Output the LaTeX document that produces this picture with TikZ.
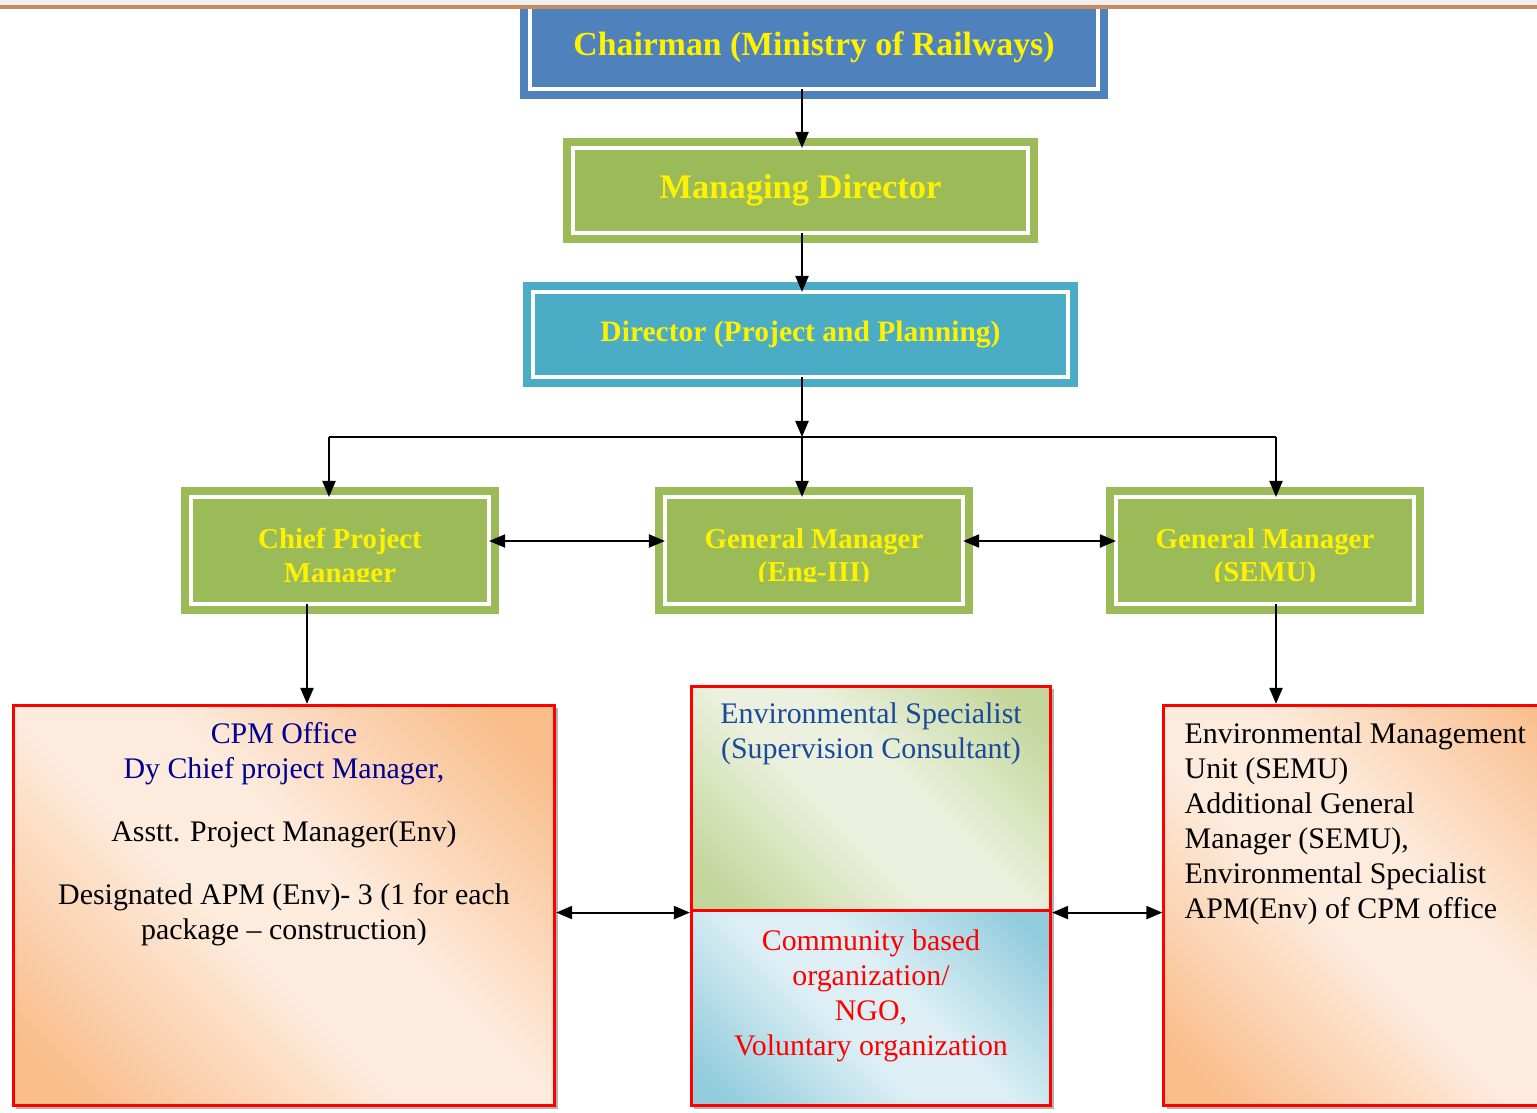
\documentclass[tikz,border=0pt]{standalone}
\usepackage{fontspec}
\setmainfont{Liberation Serif}
\usetikzlibrary{arrows.meta, shadows, positioning, calc}
\definecolor{chairblue}{HTML}{4F81BD}
\definecolor{leafgreen}{HTML}{9BBB59}
\definecolor{planblue}{HTML}{4BACC6}
\definecolor{peach}{HTML}{F9BE8C}
\definecolor{peachlight}{HTML}{FDEBDD}
\definecolor{sage}{HTML}{C3D69B}
\definecolor{sagelight}{HTML}{EBF1DE}
\definecolor{aqua}{HTML}{93CDDD}
\definecolor{aqualight}{HTML}{DDEFF5}
\definecolor{navytext}{HTML}{000090}
\definecolor{esblue}{HTML}{1A4A9A}
\definecolor{rulebrown}{HTML}{C98A5E}
\pgfdeclareverticalshading{peachband}{100bp}{color(0bp)=(peach); color(20bp)=(peach);
  color(44bp)=(peachlight); color(56bp)=(peachlight); color(80bp)=(peach); color(100bp)=(peach)}
\pgfdeclareverticalshading{sageband}{100bp}{color(0bp)=(sage); color(20bp)=(sage);
  color(44bp)=(sagelight); color(56bp)=(sagelight); color(80bp)=(sage); color(100bp)=(sage)}
\pgfdeclareverticalshading{aquaband}{100bp}{color(0bp)=(aqua); color(20bp)=(aqua);
  color(44bp)=(aqualight); color(56bp)=(aqualight); color(80bp)=(aqua); color(100bp)=(aqua)}
\tikzstyle{arrow} = [-{Triangle[length=0.16cm,width=0.13cm]},line width=0.6pt]
\tikzstyle{twoway} = [{Triangle[length=0.16cm,width=0.13cm]}-{Triangle[length=0.16cm,width=0.13cm]},line width=0.6pt]
\tikzset{
  post/.style={rectangle, fill=#1, draw=#1, double=white, line width=0.08cm,
    double distance=0.04cm, text=yellow, align=center, inner sep=0pt, outer sep=0pt},
  posttitle/.style={text=yellow, align=center, inner sep=0pt,
    font=\fontsize{8.2}{9.4}\selectfont\bfseries},
  office/.style={rectangle, draw=red, line width=0.03cm, shade, shading=#1, shading angle=-45,
    drop shadow={shadow xshift=0.03cm, shadow yshift=-0.03cm, fill=black!30, opacity=1}},
  bodytext/.style={inner sep=0pt, font=\fontsize{8.5}{9.96}\selectfont}
}

\begin{document}
\begin{tikzpicture}[x=0.01cm, y=-0.01cm]
    \useasboundingbox (0,0) rectangle (1537,1112);
    \clip (0,0) rectangle (1537,1112);

    % --- top of the chart
    \node[post=chairblue, minimum width=5.68cm, minimum height=0.84cm,
      font=\fontsize{9.6}{11.5}\selectfont\bfseries] (chair) at (814,47) {Chairman (Ministry of Railways)};
    \node[post=leafgreen, minimum width=4.55cm, minimum height=0.85cm,
      font=\fontsize{9.8}{11.5}\selectfont\bfseries] (md) at (800.5,190.5) {Managing Director};
    \node[post=planblue, minimum width=5.35cm, minimum height=0.85cm,
      font=\fontsize{8.4}{10}\selectfont\bfseries] (dir) at (800.5,334.5) {Director (Project and Planning)};

    % --- second row (titles cut off at the bottom as in the text boxes)
    \coordinate (cutline) at (0,581);
    \node[post=leafgreen, minimum width=2.98cm, minimum height=1.07cm] (cpm) at (340,550.5) {};
    \node[post=leafgreen, minimum width=2.98cm, minimum height=1.07cm] (gmeng) at (814,550.5) {};
    \node[post=leafgreen, minimum width=2.98cm, minimum height=1.07cm] (gmsemu) at (1265,550.5) {};
    \begin{scope}
      \clip (cpm.north west) rectangle (gmsemu.east |- cutline);
      \node[posttitle] (cpmname) at ($(cpm)+(0,8)$) {Chief Project\\Manager};
      \node[posttitle] (gmengname) at ($(gmeng)+(0,8)$) {General Manager\\(Eng-III)};
      \node[posttitle] (gmsemuname) at ($(gmsemu)+(0,8)$) {General Manager\\(SEMU)};
    \end{scope}

    % --- offices
    \node[office=peachband, minimum width=5.41cm, minimum height=4.00cm] (cpmoff) at (284,905.5) {};
    \node[office=sageband, minimum width=3.59cm, minimum height=2.245cm] (envspec) at (871,798.75) {};
    \node[office=aquaband, minimum width=3.59cm, minimum height=1.945cm] (cbo) at (871,1008.25) {};
    \node[office=peachband, minimum width=4.36cm, minimum height=4.00cm] (semubox) at (1382,905.5) {};

    \node[bodytext, align=center, anchor=north] (cpmtext) at (284,722)
      {\textcolor{navytext}{CPM Office}\\\textcolor{navytext}{Dy Chief project Manager,}\\[0.28cm]
       Asstt. Project Manager(Env)\\[0.28cm]Designated APM (Env)- 3 (1 for each\\package -- construction)};
    \node[bodytext, align=center, anchor=north, text=esblue] (envtext) at (871,702)
      {Environmental Specialist\\(Supervision Consultant)};
    \node[bodytext, align=center, anchor=north, text=red] (cbotext) at (871,929)
      {Community based\\organization/\\NGO,\\Voluntary organization};
    \node[bodytext, align=left, anchor=north west] (semutext) at (1184,722)
      {Environmental Management\\Unit (SEMU)\\Additional General\\Manager (SEMU),\\Environmental Specialist\\APM(Env) of CPM office};

    % --- connectors
    \coordinate (trunk) at (802,437);
    \coordinate (lefttop) at (329,437);
    \coordinate (righttop) at (1276,437);
    \coordinate (cpmdrop) at (307,0);
    \coordinate (midrow) at (0,541);
    \draw[arrow] (chair.south -| trunk) -- (md.north -| trunk);
    \draw[arrow] (md.south -| trunk) -- (dir.north -| trunk);
    \draw[arrow] (dir.south -| trunk) -- (trunk);
    \draw[line width=0.6pt] (lefttop) -- (righttop);
    \draw[arrow] (lefttop) -- (cpm.north -| lefttop);
    \draw[arrow] (trunk) -- (gmeng.north -| trunk);
    \draw[arrow] (righttop) -- (gmsemu.north -| righttop);
    \draw[twoway] (cpm.east |- midrow) -- (gmeng.west |- midrow);
    \draw[twoway] (gmeng.east |- midrow) -- (gmsemu.west |- midrow);
    \draw[arrow] (cpm.south -| cpmdrop) -- (cpmoff.north -| cpmdrop);
    \draw[arrow] (gmsemu.south -| righttop) -- (semubox.north -| righttop);
    \draw[twoway] (cpmoff.east |- envspec.south) -- (envspec.south west);
    \draw[twoway] (envspec.south east) -- (semubox.west |- envspec.south);

    % --- page rule
    \fill[black!6] (0,0) rectangle (1537,5);
    \draw[rulebrown, line width=0.03cm] (0,7) -- (1537,7);

\end{tikzpicture}
\end{document}
